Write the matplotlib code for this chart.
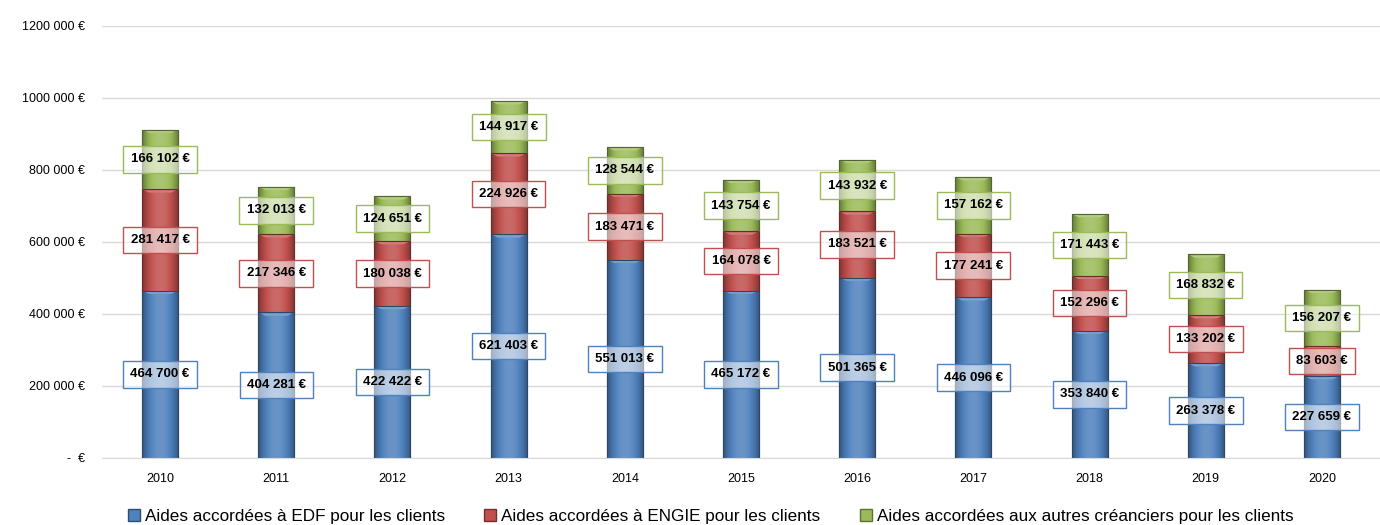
import numpy as np
import matplotlib
matplotlib.use("Agg")
import matplotlib.pyplot as plt
from matplotlib.colors import to_rgb

plt.rcParams["font.family"] = ["Liberation Sans", "DejaVu Sans"]

# Data
years = ["2010", "2011", "2012", "2013", "2014", "2015", "2016", "2017", "2018", "2019", "2020"]
edf = [464700, 404281, 422422, 621403, 551013, 465172, 501365, 446096, 353840, 263378, 227659]
engie = [281417, 217346, 180038, 224926, 183471, 164078, 183521, 177241, 152296, 133202, 83603]
autres = [166102, 132013, 124651, 144917, 128544, 143754, 143932, 157162, 171443, 168832, 156207]
labels = ["Aides accordées à EDF pour les clients",
          "Aides accordées à ENGIE pour les clients",
          "Aides accordées aux autres créanciers pour les clients"]
colors = ["#4F81BD", "#C0504D", "#9BBB59"]
yticks = [0, 200000, 400000, 600000, 800000, 1000000, 1200000]


def fmt(v):
    s = f"{v:,}".replace(",", " ")
    return s + " €"


def tick_fmt(v):
    if v == 0:
        return "-  €"
    return f"{v // 1000} 000 €"


def shade(c, f):
    r = np.array(to_rgb(c))
    if f < 0:
        return tuple(r * (1 + f))
    return tuple(r + (1 - r) * f)


fig = plt.figure(figsize=(13.8, 5.25), dpi=100)
ax = fig.add_axes([102 / 1380, 67 / 525, 1278 / 1380, 432 / 525])

x = np.arange(len(years))
width = 0.31
bottom = np.zeros(len(years))
series = [edf, engie, autres]

for vals, col, lab in zip(series, colors, labels):
    vals = np.array(vals)
    bars = ax.bar(x, vals, width, bottom=bottom, color=col, label=lab,
                  edgecolor=shade(col, -0.35), linewidth=0.8, zorder=2)
    # horizontal gradient to mimic the bevelled bars
    grad = np.linspace(-1, 1, 60)
    prof = 1 - np.abs(grad) ** 2
    img = np.zeros((1, 60, 3))
    for i, p in enumerate(prof):
        img[0, i] = shade(col, -0.35 + 0.5 * p)
    for b in bars:
        bx, by = b.get_x(), b.get_y()
        bw, bh = b.get_width(), b.get_height()
        im = ax.imshow(img, extent=[bx, bx + bw, by, by + bh], aspect="auto",
                       zorder=2.1, interpolation="bicubic")
        im.set_clip_path(b)
        # light cap on top of the segment
        cap = 9000
        ax.fill([bx + bw * 0.06, bx + bw * 0.94, bx + bw * 0.8, bx + bw * 0.2],
                [by + bh - 2500, by + bh - 2500, by + bh - cap, by + bh - cap],
                color=shade(col, 0.25), zorder=2.2, lw=0)
        ax.plot([bx, bx, bx + bw, bx + bw], [by, by + bh, by + bh, by],
                color=shade(col, -0.45), lw=0.8, zorder=2.3)
    for xi, v, b0 in zip(x, vals, bottom):
        ax.text(xi, b0 + v / 2, fmt(int(v)), ha="center", va="center",
                fontsize=9.5, fontweight="bold", color="black", zorder=4,
                bbox=dict(boxstyle="square,pad=0.55", facecolor=(1, 1, 1, 0.55),
                          edgecolor=col, linewidth=1.0))
    bottom = bottom + vals

ax.set_xlim(-0.5, len(years) - 0.5)
ax.set_ylim(0, 1200000)
ax.set_yticks(yticks)
ax.set_yticklabels([tick_fmt(v) for v in yticks], fontsize=9)
ax.set_xticks(x)
ax.set_xticklabels(years, fontsize=9)
ax.tick_params(axis="both", length=0)
ax.tick_params(axis="y", pad=12)
ax.tick_params(axis="x", pad=11)
ax.grid(axis="y", color="#D9D9D9", linewidth=1, zorder=0)
ax.set_axisbelow(True)
for s in ["top", "right", "left"]:
    ax.spines[s].set_visible(False)
ax.spines["bottom"].set_color("#D9D9D9")

handles = [plt.Rectangle((0, 0), 1, 1, facecolor=c, edgecolor=shade(c, -0.4)) for c in colors]
fig.legend(handles, labels, loc="lower center", ncol=3, frameon=False,
           fontsize=12.3, bbox_to_anchor=(0.515, -0.028), handlelength=0.7,
           handleheight=0.7, handletextpad=0.3, columnspacing=2.3)

fig.savefig("out.png", dpi=100)
